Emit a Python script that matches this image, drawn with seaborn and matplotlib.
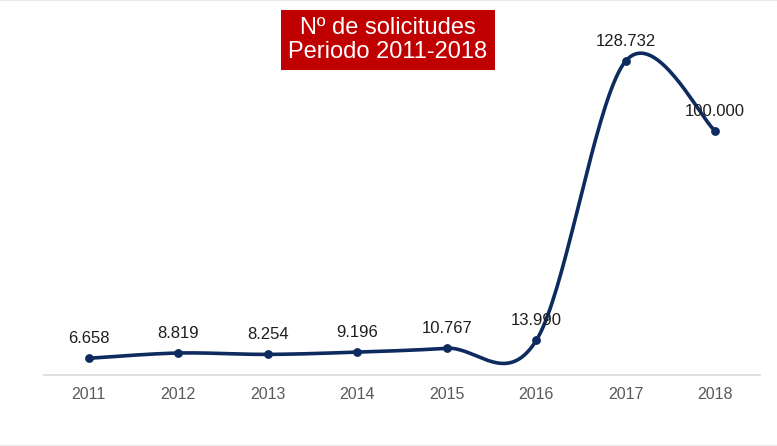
import numpy as np
import pandas as pd
import seaborn as sns
import matplotlib
matplotlib.use("Agg")
import matplotlib.pyplot as plt
from matplotlib.lines import Line2D

years = ["2011", "2012", "2013", "2014", "2015", "2016", "2017", "2018"]
solicitudes = [6658, 8819, 8254, 9196, 10767, 13990, 128732, 100000]
etiquetas = ["6.658", "8.819", "8.254", "9.196", "10.767", "13.990", "128.732", "100.000"]

sns.set_theme(style="white")
plt.rcParams["font.family"] = ["Liberation Sans", "DejaVu Sans"]

df = pd.DataFrame({"year": years, "n": solicitudes})
df["pos"] = np.arange(len(df))

line_col = "#0D2B5E"


def smooth(xs, ys, steps=40):
    # Excel-style smoothed line: Catmull-Rom segments as cubic Bezier
    px = np.concatenate([[xs[0]], xs, [xs[-1]]])
    py = np.concatenate([[ys[0]], ys, [ys[-1]]])
    out_x, out_y = [], []
    t = np.linspace(0, 1, steps)
    for i in range(1, len(px) - 2):
        p0 = np.array([px[i], py[i]])
        p3 = np.array([px[i + 1], py[i + 1]])
        c1 = p0 + (np.array([px[i + 1], py[i + 1]]) - np.array([px[i - 1], py[i - 1]])) / 6
        c2 = p3 - (np.array([px[i + 2], py[i + 2]]) - np.array([px[i], py[i]])) / 6
        b = ((1 - t) ** 3)[:, None] * p0 + (3 * (1 - t) ** 2 * t)[:, None] * c1 \
            + (3 * (1 - t) * t ** 2)[:, None] * c2 + (t ** 3)[:, None] * p3
        out_x.extend(b[:, 0])
        out_y.extend(b[:, 1])
    return np.array(out_x), np.array(out_y)


fig = plt.figure(figsize=(7.77, 4.46), dpi=100)
ax = fig.add_axes([44 / 777, 71.5 / 446, 716 / 777, 341 / 446])

sx, sy = smooth(df["pos"].values.astype(float), df["n"].values.astype(float))
ax.plot(sx, sy, color=line_col, lw=2.6, solid_capstyle="round", zorder=2)
sns.scatterplot(data=df, x="pos", y="n", color=line_col, s=40, edgecolor=line_col,
                linewidth=0, ax=ax, zorder=3)

for p, v, lab in zip(df["pos"], df["n"], etiquetas):
    ax.annotate(lab, (p, v), xytext=(0, 14), textcoords="offset points",
                ha="center", va="center", fontsize=12, color="#1E1E1E", zorder=4)

ax.set_xlim(-0.5, len(years) - 0.5)
ax.set_ylim(0, 140000)
ax.set_xticks(df["pos"])
ax.set_xticklabels(years, fontsize=11.5, color="#595959")
ax.set_yticks([])
ax.set_xlabel("")
ax.set_ylabel("")
ax.tick_params(axis="x", length=0, pad=9)
sns.despine(ax=ax, left=True, top=True, right=True)
ax.spines["bottom"].set_color("#D9D9D9")
ax.spines["bottom"].set_linewidth(1.2)

fig.text(388 / 777, 1 - 40 / 446, "Nº de solicitudes\nPeriodo 2011-2018",
         ha="center", va="center", color="white", fontsize=17, linespacing=1.1,
         bbox=dict(boxstyle="square,pad=0.3", facecolor="#C00000", edgecolor="none"))

# faint frame lines at top and bottom of the image
for yy in (0.999, 0.002):
    fig.add_artist(Line2D([0, 1], [yy, yy], transform=fig.transFigure,
                          color="#EBEBEB", lw=1))

fig.savefig("out.png", dpi=100, facecolor="white")
